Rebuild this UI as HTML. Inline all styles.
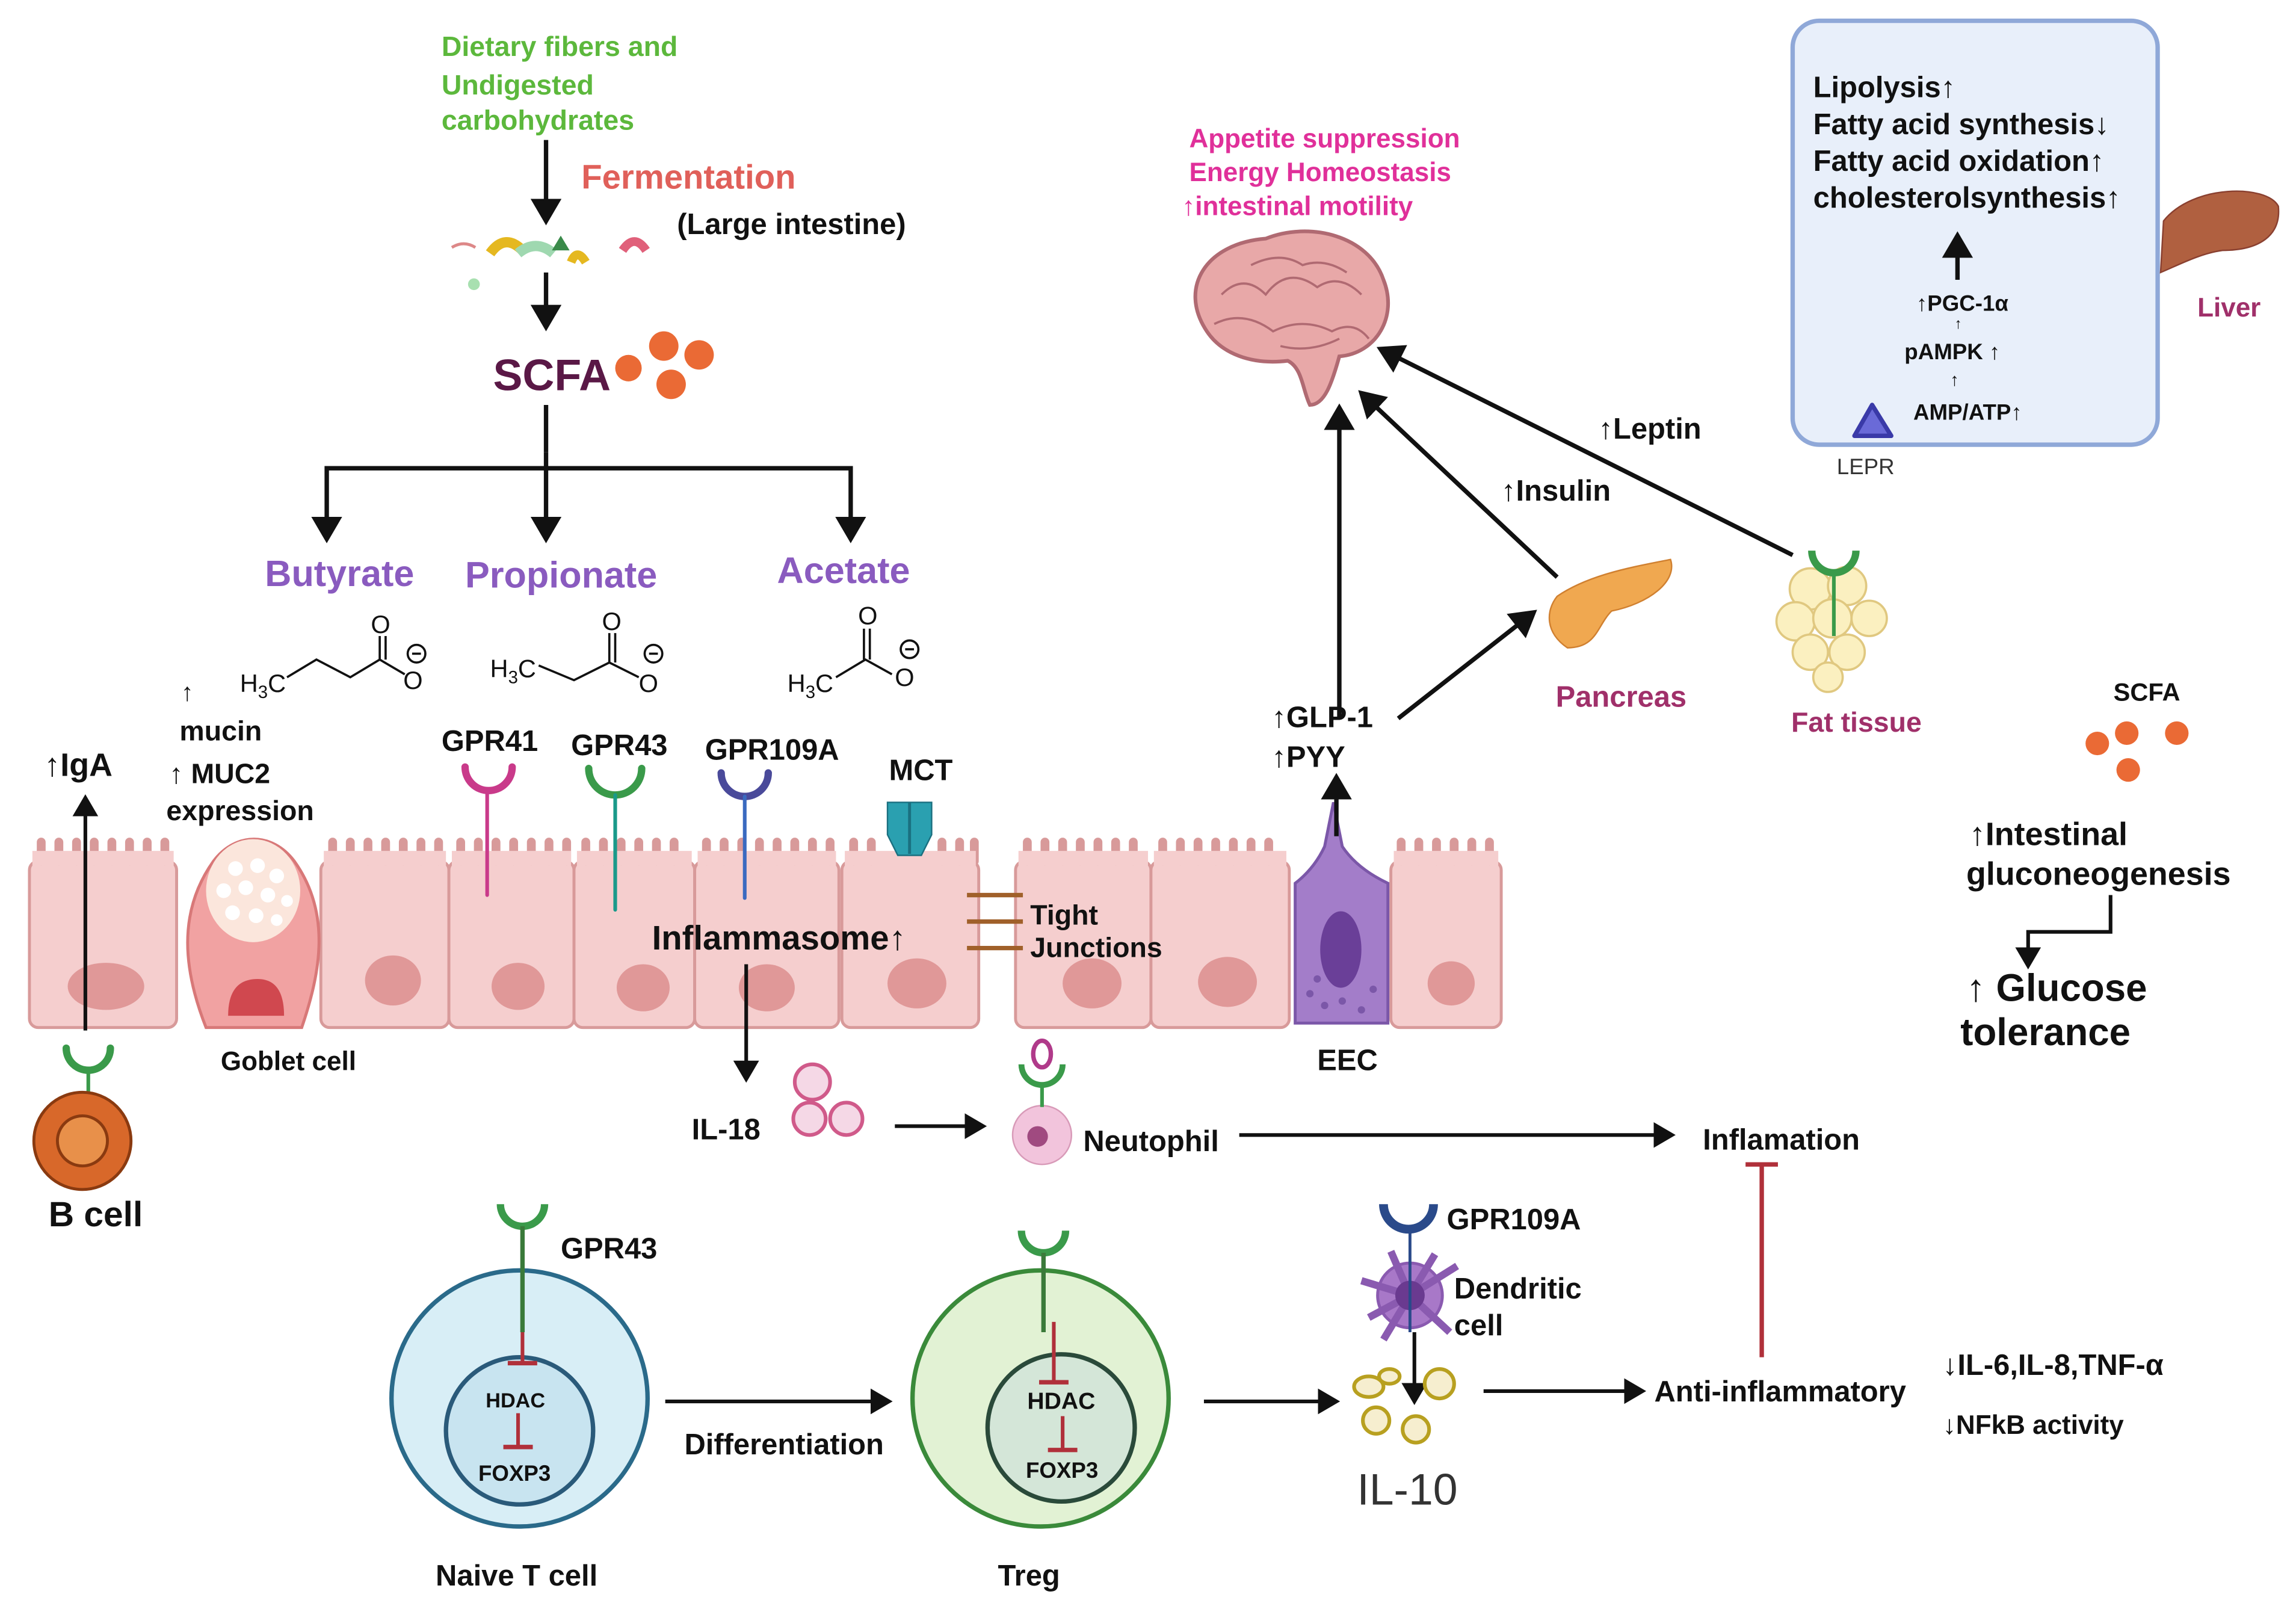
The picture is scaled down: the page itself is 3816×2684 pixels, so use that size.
<!DOCTYPE html>
<html><head><meta charset="utf-8"><style>
html,body{margin:0;padding:0;background:#fff;}
svg{display:block;}
text{font-family:"Liberation Sans",sans-serif;font-weight:bold;}
</style></head><body>
<svg width="3816" height="2684" viewBox="0 0 1560 1097" xmlns="http://www.w3.org/2000/svg">
<defs>
<marker id="ah" markerWidth="7" markerHeight="7" refX="5" refY="3.5" orient="auto" markerUnits="strokeWidth"><path d="M0,0 L6,3.5 L0,7 z" fill="#111"/></marker>
</defs>
<rect width="1560" height="1097" fill="#fff"/>

<!-- Top left chain -->
<text x="300" y="38" font-size="19" fill="#5cb83c">Dietary fibers and</text>
<text x="300" y="64" font-size="19" fill="#5cb83c">Undigested</text>
<text x="300" y="88" font-size="19" fill="#5cb83c">carbohydrates</text>
<line x1="371" y1="95" x2="371" y2="150" stroke="#111" stroke-width="3" marker-end="url(#ah)"/>
<text x="395" y="128" font-size="23" fill="#e0605a">Fermentation</text>
<text x="460" y="159" font-size="20" fill="#111">(Large intestine)</text>
<path d="M307,168 q8,-5 16,0" stroke="#d88" stroke-width="2" fill="none"/>
<path d="M333,172 q10,-14 22,-2" stroke="#e5b820" stroke-width="7" fill="none"/>
<path d="M352,172 q12,-10 24,0" stroke="#9fd8b0" stroke-width="7" fill="none"/>
<path d="M375,170 l6,-10 l6,10z" fill="#3a8a4a"/>
<path d="M388,178 q4,-10 10,0" stroke="#e5b820" stroke-width="6" fill="none"/>
<path d="M423,170 q8,-12 16,0" stroke="#e0607a" stroke-width="6" fill="none"/>
<circle cx="322" cy="193" r="4" fill="#a8e0b0"/>
<line x1="371" y1="185" x2="371" y2="222" stroke="#111" stroke-width="3" marker-end="url(#ah)"/>
<text x="335" y="265" font-size="30" fill="#5a1846">SCFA</text>
<circle cx="427" cy="250" r="9" fill="#ea6a35"/>
<circle cx="451" cy="235" r="10" fill="#ea6a35"/>
<circle cx="475" cy="241" r="10" fill="#ea6a35"/>
<circle cx="456" cy="261" r="10" fill="#ea6a35"/>
<line x1="371" y1="275" x2="371" y2="307" stroke="#111" stroke-width="3"/>
<polyline points="222,318 578,318" fill="none" stroke="#111" stroke-width="3"/>
<line x1="222" y1="316.5" x2="222" y2="366" stroke="#111" stroke-width="3" marker-end="url(#ah)"/>
<line x1="371" y1="307" x2="371" y2="366" stroke="#111" stroke-width="3" marker-end="url(#ah)"/>
<line x1="578" y1="316.5" x2="578" y2="366" stroke="#111" stroke-width="3" marker-end="url(#ah)"/>
<text x="180" y="398" font-size="25" fill="#8a5bbf">Butyrate</text>
<text x="316" y="399" font-size="25" fill="#8a5bbf">Propionate</text>
<text x="528" y="396" font-size="25" fill="#8a5bbf">Acetate</text>

<!-- chemical structures -->
<g fill="#111">
<text x="163" y="470" font-size="17" style="font-weight:normal">H<tspan font-size="12" dy="4">3</tspan><tspan dy="-4">C</tspan></text>
<text x="333" y="460" font-size="17" style="font-weight:normal">H<tspan font-size="12" dy="4">3</tspan><tspan dy="-4">C</tspan></text>
<text x="535" y="470" font-size="17" style="font-weight:normal">H<tspan font-size="12" dy="4">3</tspan><tspan dy="-4">C</tspan></text>
<text x="252" y="430" font-size="17" style="font-weight:normal">O</text>
<text x="274" y="468" font-size="17" style="font-weight:normal">O</text>
<text x="409" y="428" font-size="17" style="font-weight:normal">O</text>
<text x="434" y="470" font-size="17" style="font-weight:normal">O</text>
<text x="583" y="424" font-size="17" style="font-weight:normal">O</text>
<text x="608" y="466" font-size="17" style="font-weight:normal">O</text>
</g>
<g stroke="#111" stroke-width="1.5" fill="none">
<polyline points="195,460 215,448 238,460 258,448 275,458"/>
<line x1="258" y1="448" x2="258" y2="432"/><line x1="262" y1="448" x2="262" y2="432"/>
<circle cx="283" cy="444" r="6"/><line x1="280" y1="444" x2="286" y2="444"/>
<polyline points="366,452 390,462 414,450 434,460"/>
<line x1="414" y1="450" x2="414" y2="430"/><line x1="418" y1="450" x2="418" y2="430"/>
<circle cx="444" cy="444" r="6"/><line x1="441" y1="444" x2="447" y2="444"/>
<polyline points="568,460 588,448 606,458"/>
<line x1="587" y1="448" x2="587" y2="427"/><line x1="591" y1="448" x2="591" y2="427"/>
<circle cx="618" cy="441" r="6"/><line x1="615" y1="441" x2="621" y2="441"/>
</g>

<!-- labels above cells -->
<text x="123" y="476" font-size="17" fill="#111">↑</text>
<text x="122" y="503" font-size="19" fill="#111">mucin</text>
<text x="115" y="532" font-size="19" fill="#111">↑ MUC2</text>
<text x="113" y="557" font-size="19" fill="#111">expression</text>
<text x="30" y="527" font-size="22" fill="#111">↑IgA</text>
<text x="300" y="510" font-size="20" fill="#111">GPR41</text>
<text x="388" y="513" font-size="20" fill="#111">GPR43</text>
<text x="479" y="516" font-size="20" fill="#111">GPR109A</text>
<text x="604" y="530" font-size="20" fill="#111">MCT</text>

<!-- epithelial cells -->
<g fill="#f5cece" stroke="#d89a9a" stroke-width="2">
<rect x="20" y="585" width="100" height="113" rx="6"/>
<rect x="218" y="585" width="87" height="113" rx="6"/>
<rect x="305" y="585" width="85" height="113" rx="6"/>
<rect x="390" y="585" width="82" height="113" rx="6"/>
<rect x="472" y="585" width="98" height="113" rx="6"/>
<rect x="572" y="585" width="93" height="113" rx="6"/>
<rect x="690" y="585" width="92" height="113" rx="6"/>
<rect x="782" y="585" width="94" height="113" rx="6"/>
<rect x="945" y="585" width="75" height="113" rx="6"/>
</g>
<g stroke="#d89a9a" stroke-width="6" stroke-linecap="round">
<path d="M28,585V572M40,585V572M52,585V572M64,585V572M76,585V572M88,585V572M100,585V572M112,585V572"/>
<path d="M226,585V572M238,585V572M250,585V572M262,585V572M274,585V572M286,585V572M298,585V572"/>
<path d="M313,585V572M325,585V572M337,585V572M349,585V572M361,585V572M373,585V572M385,585V572"/>
<path d="M398,585V572M410,585V572M422,585V572M434,585V572M446,585V572M458,585V572"/>
<path d="M480,585V572M492,585V572M504,585V572M516,585V572M528,585V572M540,585V572M552,585V572M564,585V572"/>
<path d="M580,585V572M592,585V572M640,585V572M652,585V572M662,585V572"/>
<path d="M698,585V572M710,585V572M722,585V572M734,585V572M746,585V572M758,585V572M770,585V572"/>
<path d="M790,585V572M802,585V572M814,585V572M826,585V572M838,585V572M850,585V572M862,585V572"/>
<path d="M952,585V572M964,585V572M976,585V572M988,585V572M1000,585V572M1012,585V572"/>
</g>
<g fill="#f5cece" stroke="none"><rect x="22" y="578" width="96" height="10"/><rect x="220" y="578" width="83" height="10"/><rect x="307" y="578" width="81" height="10"/><rect x="392" y="578" width="78" height="10"/><rect x="474" y="578" width="94" height="10"/><rect x="574" y="578" width="89" height="10"/><rect x="692" y="578" width="88" height="10"/><rect x="784" y="578" width="90" height="10"/><rect x="947" y="578" width="71" height="10"/></g>
<g fill="#e09898">
<ellipse cx="72" cy="670" rx="26" ry="16"/><ellipse cx="267" cy="666" rx="19" ry="17"/>
<ellipse cx="352" cy="670" rx="18" ry="16"/><ellipse cx="437" cy="671" rx="18" ry="16"/>
<ellipse cx="521" cy="671" rx="19" ry="16"/><ellipse cx="623" cy="668" rx="20" ry="17"/>
<ellipse cx="742" cy="668" rx="20" ry="17"/><ellipse cx="834" cy="667" rx="20" ry="17"/>
<ellipse cx="986" cy="668" rx="16" ry="15"/>
</g>
<!-- goblet -->
<path d="M140,698 C125,660 120,620 145,585 C160,565 185,565 200,585 C225,620 218,660 205,698 Z" fill="#f1a2a2" stroke="#d87878" stroke-width="2"/>
<ellipse cx="172" cy="605" rx="32" ry="35" fill="#fbe6dc"/>
<g fill="#fff"><circle cx="160" cy="590" r="5"/><circle cx="175" cy="588" r="5"/><circle cx="188" cy="595" r="5"/><circle cx="152" cy="605" r="5"/><circle cx="167" cy="603" r="5"/><circle cx="182" cy="608" r="5"/><circle cx="195" cy="612" r="4"/><circle cx="158" cy="620" r="5"/><circle cx="174" cy="622" r="5"/><circle cx="188" cy="625" r="4"/></g>
<path d="M155,690 q0,-25 20,-25 q18,0 18,25 z" fill="#d0484f"/>
<text x="150" y="727" font-size="18" fill="#111">Goblet cell</text>
<!-- EEC -->
<path d="M880,695 L880,600 Q893,590 900,575 L906,545 L912,575 Q922,590 943,600 L943,695 Z" fill="#a37dc9" stroke="#7b57a8" stroke-width="2"/>
<ellipse cx="911" cy="645" rx="14" ry="26" fill="#6a3f98"/>
<g fill="#7b57a8"><circle cx="890" cy="675" r="2.5"/><circle cx="900" cy="683" r="2.5"/><circle cx="912" cy="680" r="2.5"/><circle cx="925" cy="686" r="2.5"/><circle cx="933" cy="672" r="2.5"/><circle cx="895" cy="665" r="2.5"/></g>
<text x="895" y="727" font-size="20" fill="#111">EEC</text>

<!-- receptors -->
<g fill="none" stroke-width="5" stroke-linecap="round">
<path d="M316,521 a16,16 0 0 0 32,0" stroke="#c93a8a"/><line x1="331" y1="537" x2="331" y2="608" stroke="#c93a8a" stroke-width="2.5"/>
<path d="M400,522 a18,18 0 0 0 36,0" stroke="#3a9a4a"/><line x1="418" y1="540" x2="418" y2="618" stroke="#1a9a8a" stroke-width="2.5"/>
<path d="M490,525 a16,16 0 0 0 32,0" stroke="#4a4a9a"/><line x1="506" y1="541" x2="506" y2="610" stroke="#3a6ac0" stroke-width="2.5"/>
<path d="M45,712 a15,15 0 0 0 30,0" stroke="#3a9a4a"/><line x1="60" y1="727" x2="60" y2="745" stroke="#3a9a4a" stroke-width="2.5"/>
</g>
<!-- MCT -->
<path d="M603,545 h30 v22 l-7,14 h-16 l-7,-14 z" fill="#2aa0b0" stroke="#1a7080"/>
<line x1="618" y1="545" x2="618" y2="580" stroke="#1a7080" stroke-width="2"/>
<text x="443" y="645" font-size="23" fill="#111">Inflammasome↑</text>
<g stroke="#a0602a" stroke-width="3"><line x1="657" y1="608" x2="695" y2="608"/><line x1="657" y1="626" x2="695" y2="626"/><line x1="657" y1="644" x2="695" y2="644"/></g>
<text x="700" y="628" font-size="19" fill="#111">Tight</text>
<text x="700" y="650" font-size="19" fill="#111">Junctions</text>

<!-- IgA and B cell -->
<line x1="58" y1="700" x2="58" y2="542" stroke="#111" stroke-width="2.5" marker-end="url(#ah)"/>
<circle cx="56" cy="775" r="33" fill="#d8682a" stroke="#8a3a10" stroke-width="2"/>
<circle cx="56" cy="775" r="17" fill="#e8904a" stroke="#8a3a10" stroke-width="2"/>
<text x="33" y="833" font-size="24" fill="#111">B cell</text>

<!-- IL-18 / neutrophil -->
<line x1="507" y1="655" x2="507" y2="733" stroke="#111" stroke-width="2.5" marker-end="url(#ah)"/>
<text x="470" y="774" font-size="20" fill="#111">IL-18</text>
<g fill="#f5d8e6" stroke="#d05a8a" stroke-width="2.5"><circle cx="552" cy="735" r="12"/><circle cx="550" cy="760" r="11"/><circle cx="575" cy="760" r="11"/></g>
<line x1="608" y1="765" x2="668" y2="765" stroke="#111" stroke-width="2.5" marker-end="url(#ah)"/>
<circle cx="708" cy="771" r="20" fill="#f2c4dc" stroke="#d89ab8"/>
<circle cx="705" cy="772" r="7" fill="#a04a80"/>
<path d="M694,723 a14,14 0 0 0 28,0" fill="none" stroke="#3a9a4a" stroke-width="4"/>
<ellipse cx="708" cy="716" rx="6" ry="9" fill="none" stroke="#b03a8a" stroke-width="3"/>
<line x1="708" y1="737" x2="708" y2="752" stroke="#3a9a4a" stroke-width="2.5"/>
<text x="736" y="782" font-size="20" fill="#111">Neutophil</text>
<line x1="842" y1="771" x2="1136" y2="771" stroke="#111" stroke-width="2.5" marker-end="url(#ah)"/>
<text x="1157" y="781" font-size="20" fill="#111">Inflamation</text>
<line x1="1197" y1="922" x2="1197" y2="792" stroke="#b0303a" stroke-width="3"/>
<line x1="1186" y1="791" x2="1208" y2="791" stroke="#b0303a" stroke-width="3"/>

<!-- Naive T cell -->
<circle cx="353" cy="950" r="87" fill="#d8eef6" stroke="#2a6a8a" stroke-width="3"/>
<circle cx="353" cy="972" r="50" fill="#c8e4f0" stroke="#2a5a7a" stroke-width="3"/>
<path d="M340,818 a15,15 0 0 0 30,0" fill="none" stroke="#3a9a4a" stroke-width="5"/>
<line x1="355" y1="833" x2="355" y2="905" stroke="#3a7a3a" stroke-width="3"/>
<line x1="355" y1="905" x2="355" y2="925" stroke="#b0303a" stroke-width="2.5"/><line x1="345" y1="926" x2="365" y2="926" stroke="#b0303a" stroke-width="3"/>
<text x="330" y="956" font-size="14" fill="#111">HDAC</text>
<line x1="352" y1="960" x2="352" y2="982" stroke="#b0303a" stroke-width="2.5"/><line x1="342" y1="983" x2="362" y2="983" stroke="#b0303a" stroke-width="3"/>
<text x="325" y="1006" font-size="15" fill="#111">FOXP3</text>
<text x="381" y="855" font-size="20" fill="#111">GPR43</text>
<text x="296" y="1077" font-size="20" fill="#111">Naive T cell</text>
<line x1="452" y1="952" x2="604" y2="952" stroke="#111" stroke-width="2.5" marker-end="url(#ah)"/>
<text x="465" y="988" font-size="20" fill="#111">Differentiation</text>

<!-- Treg -->
<circle cx="707" cy="950" r="87" fill="#e2f2d4" stroke="#3a8a3a" stroke-width="3"/>
<circle cx="721" cy="970" r="50" fill="#d4e6d8" stroke="#2a4a3a" stroke-width="3"/>
<path d="M694,836 a15,15 0 0 0 30,0" fill="none" stroke="#3a9a4a" stroke-width="5"/>
<line x1="709" y1="851" x2="709" y2="905" stroke="#3a7a3a" stroke-width="3"/>
<line x1="716" y1="898" x2="716" y2="938" stroke="#b0303a" stroke-width="2.5"/><line x1="706" y1="939" x2="726" y2="939" stroke="#b0303a" stroke-width="3"/>
<text x="698" y="957" font-size="16" fill="#111">HDAC</text>
<line x1="722" y1="962" x2="722" y2="984" stroke="#b0303a" stroke-width="2.5"/><line x1="712" y1="985" x2="732" y2="985" stroke="#b0303a" stroke-width="3"/>
<text x="697" y="1004" font-size="15" fill="#111">FOXP3</text>
<text x="678" y="1077" font-size="20" fill="#111">Treg</text>
<line x1="818" y1="952" x2="908" y2="952" stroke="#111" stroke-width="2.5" marker-end="url(#ah)"/>

<!-- Dendritic / IL-10 -->
<path d="M940,818 a17,17 0 0 0 34,0" fill="none" stroke="#2a4a8a" stroke-width="6"/>
<text x="983" y="835" font-size="20" fill="#111">GPR109A</text>
<g fill="#a878c8" stroke="#8a5ab0" stroke-width="2">
<circle cx="958" cy="880" r="22"/>
<path d="M958,880 L925,870 M958,880 L930,895 M958,880 L940,910 M958,880 L985,905 M958,880 L990,860 M958,880 L945,850 M958,880 L975,852" stroke-width="5"/>
</g>
<circle cx="958" cy="880" r="10" fill="#6a3a90"/>
<line x1="958" y1="835" x2="958" y2="905" stroke="#2a4a8a" stroke-width="2"/>
<text x="988" y="882" font-size="20" fill="#111">Dendritic</text>
<text x="988" y="907" font-size="20" fill="#111">cell</text>
<line x1="961" y1="905" x2="961" y2="952" stroke="#111" stroke-width="2.5" marker-end="url(#ah)"/>
<g fill="#f6eecf" stroke="#b8a020" stroke-width="2.5">
<ellipse cx="930" cy="942" rx="10" ry="7"/><ellipse cx="944" cy="935" rx="7" ry="5"/><circle cx="978" cy="940" r="10"/><circle cx="935" cy="965" r="9"/><circle cx="962" cy="971" r="9"/>
</g>
<text x="922" y="1022" font-size="30" style="font-weight:normal" fill="#333">IL-10</text>
<line x1="1008" y1="945" x2="1116" y2="945" stroke="#111" stroke-width="2.5" marker-end="url(#ah)"/>
<text x="1124" y="952" font-size="20" fill="#111">Anti-inflammatory</text>
<text x="1320" y="934" font-size="20" fill="#111">↓IL-6,IL-8,TNF-α</text>
<text x="1320" y="974" font-size="18" fill="#111">↓NFkB activity</text>

<!-- Brain -->
<text x="808" y="100" font-size="18" fill="#e0309a">Appetite  suppression</text>
<text x="808" y="123" font-size="18" fill="#e0309a">Energy Homeostasis</text>
<text x="803" y="146" font-size="18" fill="#e0309a">↑intestinal motility</text>
<path d="M820,225 C800,195 820,165 860,162 C890,150 930,160 940,190 C950,215 935,240 910,242 C905,260 900,275 890,275 C885,265 885,250 875,245 C850,248 830,240 820,225 Z" fill="#e8a8a8" stroke="#b06a72" stroke-width="2.5"/>
<g fill="none" stroke="#b06a72" stroke-width="1.5"><path d="M830,200 q15,-15 30,0 q15,-20 35,-5 q15,-10 30,5"/><path d="M825,220 q20,-10 40,5 q20,-10 40,0 q15,-8 25,5"/><path d="M850,180 q20,-10 35,0 q15,-5 30,5"/><path d="M870,235 q20,5 40,-5"/></g>
<line x1="910" y1="488" x2="910" y2="277" stroke="#111" stroke-width="3" marker-end="url(#ah)"/>
<line x1="1058" y1="392" x2="925" y2="267" stroke="#111" stroke-width="3" marker-end="url(#ah)"/>
<line x1="1218" y1="377" x2="938" y2="237" stroke="#111" stroke-width="3" marker-end="url(#ah)"/>
<text x="1020" y="340" font-size="20" fill="#111">↑Insulin</text>
<text x="1086" y="298" font-size="20" fill="#111">↑Leptin</text>
<text x="864" y="494" font-size="20" fill="#111">↑GLP-1</text>
<text x="864" y="521" font-size="20" fill="#111">↑PYY</text>
<line x1="908" y1="568" x2="908" y2="528" stroke="#111" stroke-width="3" marker-end="url(#ah)"/>
<line x1="950" y1="488" x2="1042" y2="416" stroke="#111" stroke-width="3" marker-end="url(#ah)"/>
<!-- pancreas -->
<path d="M1058,405 C1080,390 1110,385 1135,380 C1140,395 1120,410 1095,415 C1085,425 1085,440 1065,440 C1050,430 1050,415 1058,405 Z" fill="#f0a850" stroke="#d08030"/>
<text x="1057" y="480" font-size="20" fill="#a0306a">Pancreas</text>
<!-- fat -->
<g fill="#fbf0c0" stroke="#e0c880" stroke-width="1.5">
<circle cx="1230" cy="400" r="14"/><circle cx="1255" cy="398" r="13"/><circle cx="1220" cy="422" r="13"/><circle cx="1245" cy="420" r="13"/><circle cx="1270" cy="420" r="12"/><circle cx="1230" cy="443" r="12"/><circle cx="1255" cy="443" r="12"/><circle cx="1242" cy="460" r="10"/>
</g>
<path d="M1231,374 a15,15 0 0 0 30,0" fill="none" stroke="#3a9a4a" stroke-width="5"/>
<line x1="1246" y1="389" x2="1246" y2="432" stroke="#3a9a4a" stroke-width="2.5"/>
<text x="1217" y="497" font-size="19" fill="#a0306a">Fat tissue</text>

<!-- Liver box -->
<rect x="1218" y="14" width="248" height="288" rx="18" fill="#e8effa" stroke="#8fa8d8" stroke-width="3"/>
<text x="1232" y="66" font-size="20" fill="#111">Lipolysis↑</text>
<text x="1232" y="91" font-size="20" fill="#111">Fatty acid synthesis↓</text>
<text x="1232" y="116" font-size="20" fill="#111">Fatty acid oxidation↑</text>
<text x="1232" y="141" font-size="20" fill="#111">cholesterolsynthesis↑</text>
<line x1="1330" y1="190" x2="1330" y2="160" stroke="#111" stroke-width="3" marker-end="url(#ah)"/>
<text x="1302" y="211" font-size="15" fill="#111">↑PGC-1α</text>
<text x="1328" y="223" font-size="10" fill="#111">↑</text>
<text x="1294" y="244" font-size="15" fill="#111">pAMPK ↑</text>
<text x="1325" y="262" font-size="12" fill="#111">↑</text>
<text x="1300" y="285" font-size="15" fill="#111">AMP/ATP↑</text>
<path d="M1272,275 L1285,296 L1260,296 Z" fill="#6a6ad8" stroke="#3a3aa8" stroke-width="3" stroke-linejoin="round"/>
<text x="1248" y="322" font-size="15" style="font-weight:normal" fill="#333">LEPR</text>
<path d="M1470,150 C1490,125 1540,125 1548,140 C1550,160 1535,170 1510,170 C1495,172 1480,180 1468,185 Z" fill="#b06040" stroke="#8a4030"/>
<text x="1493" y="215" font-size="18" fill="#a0306a">Liver</text>

<!-- right bottom -->
<text x="1436" y="476" font-size="17" fill="#111">SCFA</text>
<circle cx="1425" cy="505" r="8" fill="#ea6a35"/><circle cx="1445" cy="498" r="8" fill="#ea6a35"/><circle cx="1479" cy="498" r="8" fill="#ea6a35"/><circle cx="1446" cy="523" r="8" fill="#ea6a35"/>
<text x="1338" y="574" font-size="22" fill="#111">↑Intestinal</text>
<text x="1336" y="601" font-size="22" fill="#111">gluconeogenesis</text>
<polyline points="1434,608 1434,633 1378,633 1378,656" fill="none" stroke="#111" stroke-width="2.5" marker-end="url(#ah)"/>
<text x="1336" y="680" font-size="26" fill="#111">↑ Glucose</text>
<text x="1332" y="710" font-size="26" fill="#111">tolerance</text>
</svg>
</body></html>
